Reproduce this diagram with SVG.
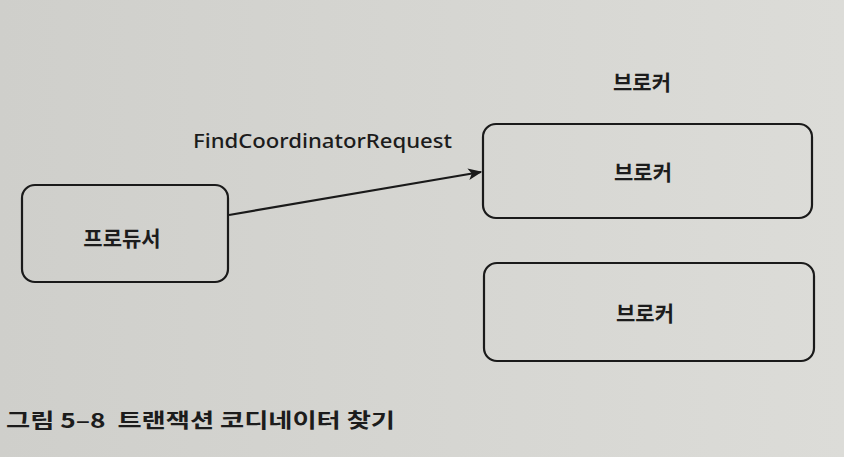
<svg xmlns="http://www.w3.org/2000/svg" width="844" height="457" viewBox="0 0 844 457">
  <defs>
    <linearGradient id="bg" x1="0" y1="0" x2="1" y2="0">
      <stop offset="0" stop-color="#cfcfcb"/>
      <stop offset="1" stop-color="#dcdcd8"/>
    </linearGradient>
    <marker id="ah" viewBox="0 0 12 10" refX="11" refY="5" markerWidth="14" markerHeight="12" markerUnits="userSpaceOnUse" orient="auto">
      <path d="M0,0 L12,5 L0,10 L3,5 z" fill="#1a1a1a"/>
    </marker>
  </defs>
  <style>
    .box { fill: none; stroke: #1a1a1a; stroke-width: 2.2; }
    .lbl { font-family: "Noto Sans CJK KR", "Noto Sans", sans-serif; font-weight: bold; font-size: 21px; fill: #1c1c1c; text-anchor: middle; }
    .edge { stroke: #1a1a1a; stroke-width: 2.2; fill: none; }
    .elbl { font-family: "Noto Sans", "Noto Sans CJK KR", sans-serif; font-weight: 500; font-size: 19px; fill: #1c1c1c; }
    .cap { font-family: "Noto Sans CJK KR", "Noto Sans", sans-serif; font-weight: bold; font-size: 20px; fill: #1c1c1c; white-space: pre; }
  </style>
  <rect x="0" y="0" width="844" height="457" fill="url(#bg)"/>

  <g id="broker-label">
    <text class="lbl" x="642" y="90">브로커</text>
  </g>
  <g id="broker1">
    <rect class="box" x="483" y="124" width="329" height="94" rx="13"/>
    <text class="lbl" x="643" y="180">브로커</text>
  </g>
  <g id="broker2">
    <rect class="box" x="484" y="263" width="330" height="98" rx="13"/>
    <text class="lbl" x="645" y="321">브로커</text>
  </g>
  <g id="producer">
    <rect class="box" x="22" y="185" width="206" height="97" rx="13"/>
    <text class="lbl" x="122" y="246">프로듀서</text>
  </g>

  <g id="connectors">
    <line class="edge" x1="229" y1="215" x2="481" y2="172" marker-end="url(#ah)"/>
    <text class="elbl" x="193" y="148" textLength="259" lengthAdjust="spacingAndGlyphs">FindCoordinatorRequest</text>
  </g>

  <g id="caption">
    <text class="cap" x="6" y="428" xml:space="preserve" textLength="389" lengthAdjust="spacingAndGlyphs">그림 5–8  트랜잭션 코디네이터 찾기</text>
  </g>
</svg>
